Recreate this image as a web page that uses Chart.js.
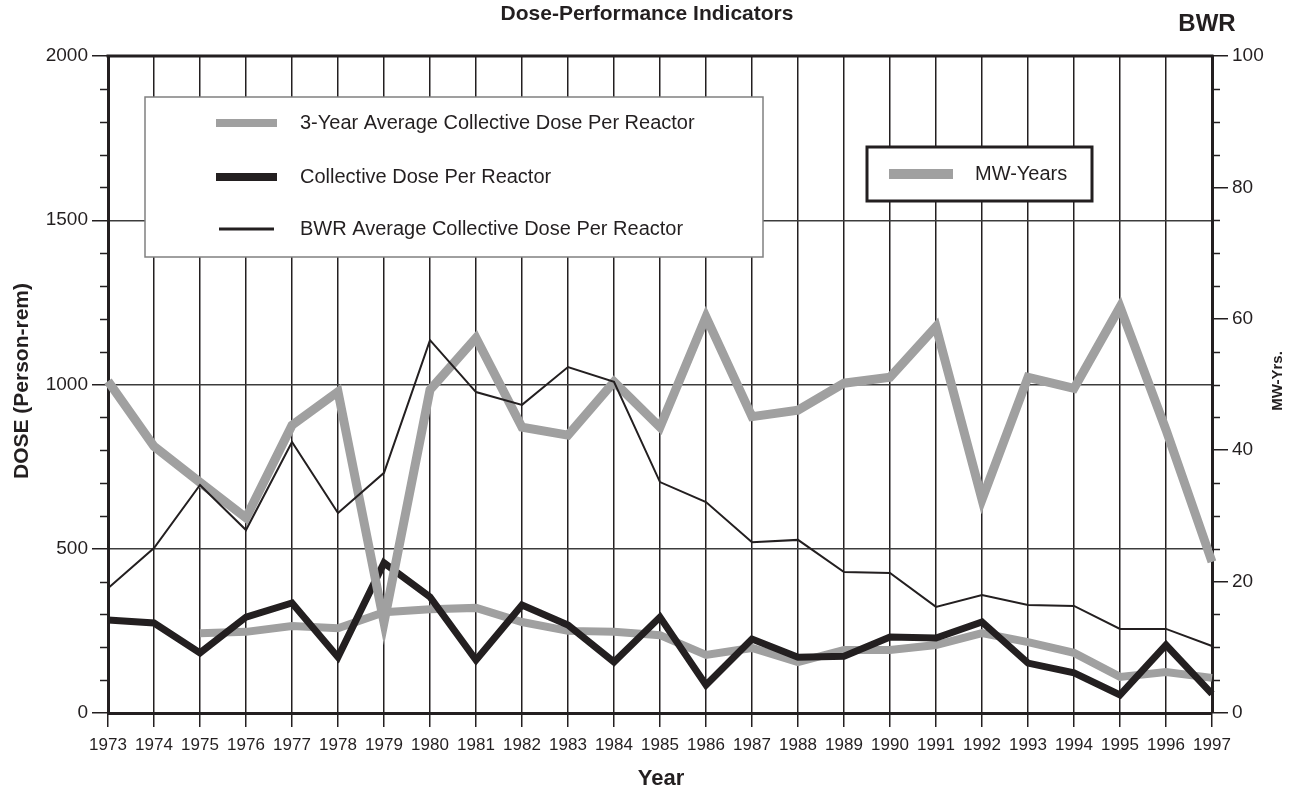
<!DOCTYPE html>
<html>
<head>
<meta charset="utf-8">
<script src="https://cdn.jsdelivr.net/npm/chart.js"></script>
<style>
  html, body { margin: 0; padding: 0; background: #fff; }
</style>
</head>
<body>
<canvas id="myChart" width="1289" height="790"></canvas>
<script>
var years = ['1973', '1974', '1975', '1976', '1977', '1978', '1979', '1980', '1981', '1982', '1983', '1984', '1985',
             '1986', '1987', '1988', '1989', '1990', '1991', '1992', '1993', '1994', '1995', '1996', '1997'];

// MW-Years (right axis)
var mwYears = [50.5, 40.6, 35.1, 29.7, 43.8, 48.9, 13.8, 49.2, 57.1, 43.5, 42.3, 50.4, 43.5,
               60.3, 45.1, 46.1, 50.2, 51.1, 58.8, 32.5, 51.1, 49.4, 61.8, 43.1, 23.0];

// 3-year average collective dose per reactor (left axis)
var avg3Year = [null, null, 243, 247, 265, 258, 307, 316, 320, 277, 250, 247, 237,
                177, 198, 155, 192, 192, 207, 243, 216, 183, 110, 125, 107];

// collective dose per reactor
var collectiveDose = [283, 274, 183, 292, 335, 170, 457, 353, 161, 329, 268, 155, 292,
                      85, 225, 170, 173, 231, 228, 277, 152, 122, 55, 207, 58];

// BWR average collective dose per reactor
var bwrAverage = [380, 502, 694, 557, 825, 609, 731, 1135, 977, 938, 1053, 1008, 703,
                  642, 520, 527, 429, 426, 323, 359, 329, 326, 256, 256, 204];

var ink = '#231f20';
var grey = '#a0a0a0';
var sans = "'Liberation Sans', Arial, sans-serif";

var decor = {
    id: 'decor',
    afterDraw: function (chart) {
        var c = chart.ctx;
        var a = chart.chartArea;
        var y = chart.scales.y, y2 = chart.scales.y2;
        c.save();
        c.strokeStyle = ink;
        c.lineWidth = 1.5;
        // minor ticks
        for (var v = 100; v < 2000; v += 100) {
            if (v % 500 === 0) continue;
            var py = Math.round(y.getPixelForValue(v)) + 0.5;
            c.beginPath(); c.moveTo(a.left - 8, py); c.lineTo(a.left, py); c.stroke();
        }
        for (var w = 5; w < 100; w += 5) {
            if (w % 20 === 0) continue;
            var qy = Math.round(y2.getPixelForValue(w)) + 0.5;
            c.beginPath(); c.moveTo(a.right, qy); c.lineTo(a.right + 8, qy); c.stroke();
        }
        // top frame
        c.lineWidth = 3;
        c.beginPath(); c.moveTo(a.left - 1.5, a.top); c.lineTo(a.right + 1.5, a.top); c.stroke();

        // titles
        c.fillStyle = ink;
        c.textAlign = 'center';
        c.textBaseline = 'middle';
        c.font = 'bold 21px ' + sans;
        c.fillText('Dose-Performance Indicators', 647, 14);
        c.font = 'bold 24px ' + sans;
        c.fillText('BWR', 1207, 24);
        c.font = 'bold 22px ' + sans;
        c.fillText('Year', 661, 779);

        c.save();
        c.translate(22, 381);
        c.rotate(-Math.PI / 2);
        c.font = 'bold 21px ' + sans;
        c.fillText('DOSE (Person-rem)', 0, 0);
        c.restore();

        c.save();
        c.translate(1278, 381);
        c.rotate(-Math.PI / 2);
        c.font = 'bold 15px ' + sans;
        c.fillText('MW-Yrs.', 0, 0);
        c.restore();

        // legend box 1
        var ds = chart.data.datasets;
        c.fillStyle = '#fff';
        c.fillRect(145, 97, 618, 160);
        c.strokeStyle = '#808080';
        c.lineWidth = 1.5;
        c.strokeRect(145, 97, 618, 160);
        var rows = [[ds[0], 123, 8, 216, 277], [ds[1], 177, 8, 216, 277], [ds[2], 229, 3, 219, 274]];
        c.font = '20px ' + sans;
        c.textAlign = 'left';
        rows.forEach(function (r) {
            c.fillStyle = r[0].borderColor;
            c.fillRect(r[3], r[1] - r[2] / 2, r[4] - r[3], r[2]);
            c.fillStyle = ink;
            c.fillText(r[0].label, 300, r[1]);
        });

        // legend box 2
        c.fillStyle = '#fff';
        c.fillRect(867, 147, 225, 54);
        c.strokeStyle = ink;
        c.lineWidth = 3;
        c.strokeRect(867, 147, 225, 54);
        c.fillStyle = ds[3].borderColor;
        c.fillRect(889, 169, 64, 10);
        c.fillStyle = ink;
        c.fillText(ds[3].label, 975, 174);
        c.restore();
    }
};

function plain(value) { return String(value); }

var ctx = document.getElementById('myChart').getContext('2d');
new Chart(ctx, {
    type: 'line',
    data: {
        labels: years,
        datasets: [
            {
                label: '3-Year Average Collective Dose Per Reactor',
                data: avg3Year,
                yAxisID: 'y',
                borderColor: grey,
                borderWidth: 8,
                order: 4
            },
            {
                label: 'Collective Dose Per Reactor',
                data: collectiveDose,
                yAxisID: 'y',
                borderColor: ink,
                borderWidth: 7,
                order: 3
            },
            {
                label: 'BWR Average Collective Dose Per Reactor',
                data: bwrAverage,
                yAxisID: 'y',
                borderColor: ink,
                borderWidth: 2,
                order: 1
            },
            {
                label: 'MW-Years',
                data: mwYears,
                yAxisID: 'y2',
                borderColor: grey,
                borderWidth: 9,
                order: 2
            }
        ]
    },
    options: {
        responsive: false,
        animation: false,
        layout: { padding: { top: 56, left: 0, right: 0, bottom: 0 } },
        elements: {
            point: { radius: 0, hoverRadius: 0 },
            line: { tension: 0, fill: false }
        },
        plugins: {
            legend: { display: false },
            tooltip: { enabled: false },
            title: { display: false }
        },
        scales: {
            x: {
                type: 'category',
                offset: false,
                grid: { color: ink, lineWidth: 1.5, tickLength: 14 },
                border: { display: true, color: ink, width: 3 },
                ticks: { color: ink, font: { family: sans, size: 17 }, maxRotation: 0, autoSkip: false, padding: 8 },
                afterFit: function (s) { s.height = 77; }
            },
            y: {
                position: 'left',
                min: 0,
                max: 2000,
                grid: { color: '#3c3c3c', lineWidth: 1.5, tickLength: 16, tickColor: ink },
                border: { display: true, color: ink, width: 3 },
                ticks: { stepSize: 500, color: ink, font: { family: sans, size: 19 }, padding: 4, callback: plain },
                afterFit: function (s) { s.width = 108; }
            },
            y2: {
                position: 'right',
                min: 0,
                max: 100,
                grid: { drawOnChartArea: false, color: ink, lineWidth: 1.5, tickLength: 16 },
                border: { display: true, color: ink, width: 3 },
                ticks: { stepSize: 20, color: ink, font: { family: sans, size: 19 }, padding: 4, callback: plain },
                afterFit: function (s) { s.width = 77; }
            }
        }
    },
    plugins: [decor]
});
</script>
</body>
</html>
